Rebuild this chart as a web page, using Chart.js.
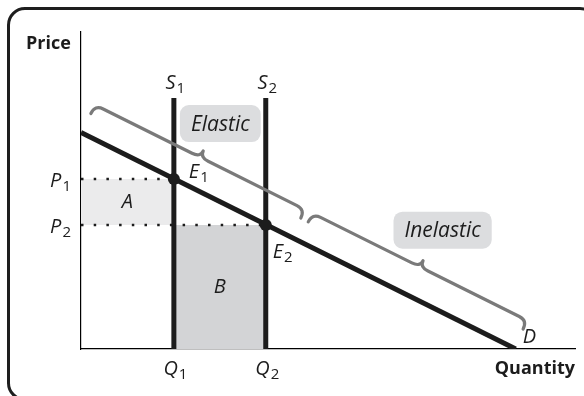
<!DOCTYPE html>
<html lang="en">
<head>
  <meta charset="UTF-8" />
  <title>Elastic and inelastic demand</title>
  <script src="https://cdn.jsdelivr.net/npm/chart.js"></script>
  <style>
    * { margin: 0; padding: 0; box-sizing: border-box; }
    body { background: #fff; width: 584px; height: 396px; overflow: hidden; position: relative; }
    .frame {
      position: absolute; left: 7px; top: 7px; width: 591px; height: 394px;
      border: 3px solid #1e1e1e; border-radius: 18px;
    }
    canvas { position: absolute; left: 0; top: 0; }
  </style>
</head>
<body>
  <div class="frame"></div>
  <canvas id="chart" width="584" height="396"></canvas>

  <script>
    // data units: quantity 0-100, price 0-100
    const qLabels = ['1', '2'];            // subscripts for Q, S, E, P
    const quantities = [18.8, 37.4];       // Q1, Q2
    const prices = [53.6, 39.1];           // P1, P2
    const supplyTop = 79.2;
    const demand = [{ x: 0, y: 68.3 }, { x: 88, y: 0 }];
    const braceStart = [{ x: 2, y: 74.3 }, { x: 46, y: 40.1 }];
    const braceEnd = [{ x: 44.5, y: 41.3 }, { x: 89.5, y: 6.3 }];
    const rangeNames = ['Elastic', 'Inelastic'];
    const rangeSpots = [{ x: 28.2, y: 71.1 }, { x: 73.2, y: 37.5 }];

    const INK = '#1c1c1c';
    const FONT = '"Open Sans", "Noto Sans", sans-serif';

    function seg(a, b) { return [a, b]; }

    function drawBrace(ctx, a, b, lift, cusp, r) {
      const dx = b.x - a.x, dy = b.y - a.y, len = Math.hypot(dx, dy);
      const ux = dx / len, uy = dy / len;
      const nx = uy, ny = -ux;
      const m = { x: (a.x + b.x) / 2, y: (a.y + b.y) / 2 };
      const P = (p, s, t) => [p.x + ux * s + nx * t, p.y + uy * s + ny * t];
      ctx.beginPath();
      ctx.moveTo(...P(a, 0, 0));
      ctx.quadraticCurveTo(...P(a, 0, lift), ...P(a, r, lift));
      ctx.lineTo(...P(m, -r, lift));
      ctx.quadraticCurveTo(...P(m, 0, lift), ...P(m, 0, lift + cusp));
      ctx.quadraticCurveTo(...P(m, 0, lift), ...P(m, r, lift));
      ctx.lineTo(...P(b, -r, lift));
      ctx.quadraticCurveTo(...P(b, 0, lift), ...P(b, 0, 0));
      ctx.stroke();
    }

    // letter with subscript, y = baseline
    function subText(ctx, main, sub, x, y, align) {
      const mainFont = 'italic 20px ' + FONT, subFont = '15px ' + FONT;
      ctx.font = mainFont;
      const w1 = ctx.measureText(main).width;
      ctx.font = subFont;
      const w2 = ctx.measureText(sub).width;
      let left = x;
      if (align === 'center') left = x - (w1 + w2) / 2;
      if (align === 'right') left = x - (w1 + w2);
      ctx.textAlign = 'left';
      ctx.textBaseline = 'alphabetic';
      ctx.font = mainFont;
      ctx.fillText(main, left, y);
      ctx.font = subFont;
      ctx.fillText(sub, left + w1 + 1, y + 4);
    }

    const annotations = {
      id: 'annotations',
      afterDatasetsDraw(chart) {
        const ctx = chart.ctx;
        const sx = chart.scales.x, sy = chart.scales.y;
        const px = p => ({ x: sx.getPixelForValue(p.x), y: sy.getPixelForValue(p.y) });
        ctx.save();

        // braces
        ctx.strokeStyle = '#7a7a7a';
        ctx.lineWidth = 3.2;
        ctx.lineCap = 'round';
        ctx.lineJoin = 'round';
        braceStart.forEach((s, i) => drawBrace(ctx, px(s), px(braceEnd[i]), 9.5, 7, 9));

        // range boxes
        rangeNames.forEach((name, i) => {
          const c = px(rangeSpots[i]);
          ctx.font = 'italic 21px ' + FONT;
          const w = ctx.measureText(name).width + 22, h = 37;
          ctx.fillStyle = '#dcdddf';
          ctx.beginPath();
          ctx.roundRect(c.x - w / 2, c.y - h / 2, w, h, 9);
          ctx.fill();
          ctx.fillStyle = INK;
          ctx.textAlign = 'center';
          ctx.textBaseline = 'middle';
          ctx.fillText(name, c.x, c.y + 1);
        });

        ctx.fillStyle = INK;
        quantities.forEach((q, i) => {
          const top = px({ x: q, y: supplyTop });
          subText(ctx, 'S', qLabels[i], top.x + 1, top.y - 9, 'center');
          subText(ctx, 'Q', qLabels[i], top.x + 1, sy.bottom + 26, 'center');
          const p = px({ x: 0, y: prices[i] });
          subText(ctx, 'P', qLabels[i], sx.left - 11, p.y + 8, 'right');
        });
        const e1 = px({ x: quantities[0], y: prices[0] });
        const e2 = px({ x: quantities[1], y: prices[1] });
        subText(ctx, 'E', '1', e1.x + 15, e1.y - 1, 'left');
        subText(ctx, 'E', '2', e2.x + 7, e2.y + 33, 'left');

        ctx.font = 'italic 20px ' + FONT;
        ctx.textAlign = 'center';
        ctx.textBaseline = 'middle';
        const a = px({ x: quantities[0] / 2, y: (prices[0] + prices[1]) / 2 });
        ctx.fillText('A', a.x, a.y);
        const b = px({ x: (quantities[0] + quantities[1]) / 2, y: prices[1] / 2 });
        ctx.fillText('B', b.x, b.y);
        const d = px(demand[1]);
        ctx.textAlign = 'left';
        ctx.textBaseline = 'alphabetic';
        ctx.fillText('D', d.x + 7, d.y - 6);

        // axis titles
        ctx.font = 'bold 18px ' + FONT;
        ctx.textAlign = 'left';
        ctx.fillText('Price', 26, 49);
        ctx.textAlign = 'right';
        ctx.fillText('Quantity', sx.right, sy.bottom + 25);
        ctx.restore();
      }
    };

    const flat = { borderWidth: 0, pointRadius: 0, fill: false };

    new Chart(document.getElementById('chart'), {
      type: 'line',
      data: {
        datasets: [
          { data: seg({ x: 0, y: prices[0] }, { x: quantities[0], y: prices[0] }), ...flat,
            fill: '+1', backgroundColor: '#ebebec', order: 20 },
          { data: seg({ x: 0, y: prices[1] }, { x: quantities[0], y: prices[1] }), ...flat, order: 21 },
          { data: seg({ x: quantities[0], y: prices[1] }, { x: quantities[1], y: prices[1] }), ...flat,
            fill: 'origin', backgroundColor: '#d3d4d6', order: 19 },
          { data: seg({ x: 0, y: prices[0] }, { x: quantities[0], y: prices[0] }),
            borderColor: INK, borderWidth: 2.5, borderDash: [2.5, 10.2], pointRadius: 0, order: 10 },
          { data: seg({ x: 0, y: prices[1] }, { x: quantities[1], y: prices[1] }),
            borderColor: INK, borderWidth: 2.5, borderDash: [2.5, 10.2], pointRadius: 0, order: 10 },
          { data: seg({ x: quantities[0], y: 0 }, { x: quantities[0], y: supplyTop }),
            borderColor: INK, borderWidth: 5, pointRadius: 0, order: 5 },
          { data: seg({ x: quantities[1], y: 0 }, { x: quantities[1], y: supplyTop }),
            borderColor: INK, borderWidth: 5, pointRadius: 0, order: 5 },
          { data: demand, borderColor: INK, borderWidth: 5, pointRadius: 0, order: 4 },
          { data: quantities.map((q, i) => ({ x: q, y: prices[i] })), showLine: false,
            pointRadius: 6, pointBackgroundColor: INK, pointBorderWidth: 0, order: 1 }
        ]
      },
      options: {
        responsive: false,
        devicePixelRatio: 1,
        animation: false,
        layout: { padding: { left: 81, right: 9, top: 32, bottom: 47 } },
        plugins: { legend: { display: false }, tooltip: { enabled: false } },
        scales: {
          x: {
            type: 'linear', min: 0, max: 100,
            ticks: { display: false },
            grid: { display: false, drawTicks: false },
            border: { display: true, color: '#000', width: 1.2 }
          },
          y: {
            min: 0, max: 100,
            ticks: { display: false },
            grid: { display: false, drawTicks: false },
            border: { display: true, color: '#000', width: 1.2 }
          }
        }
      },
      plugins: [annotations]
    });
  </script>
</body>
</html>
